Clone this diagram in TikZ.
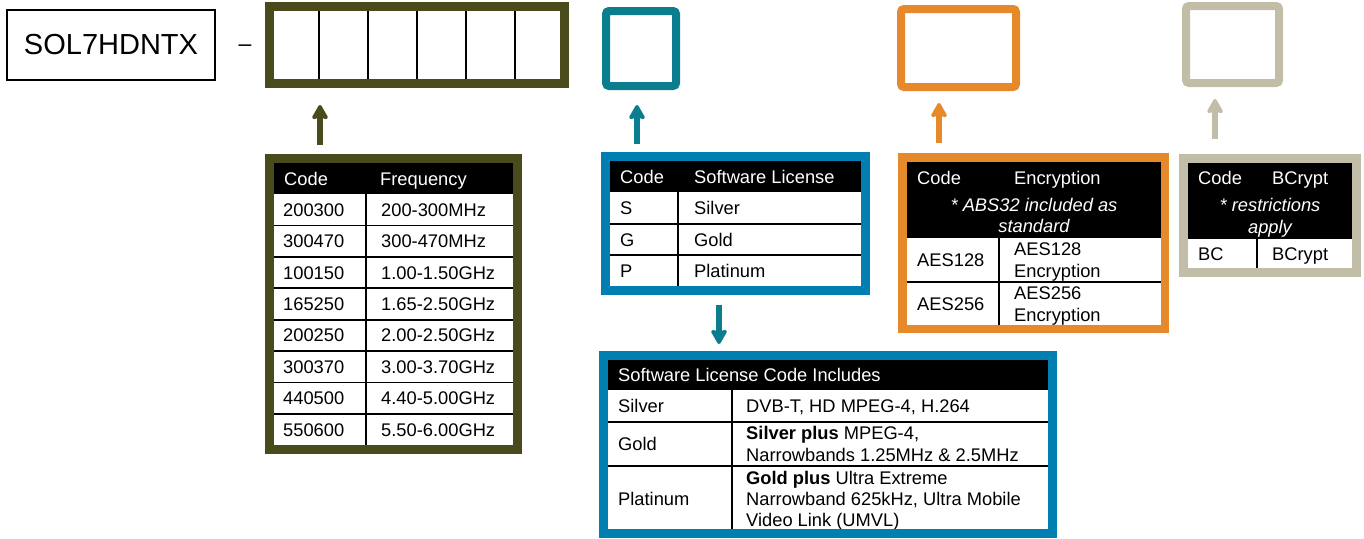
\documentclass[tikz,border=0pt]{standalone}
\usepackage{fontspec}
\setmainfont{Liberation Sans}
\usetikzlibrary{arrows.meta}
\definecolor{colOlive}{RGB}{74,75,28}
\definecolor{colTeal}{RGB}{10,125,143}
\definecolor{colBlue}{RGB}{0,127,176}
\definecolor{colOrange}{RGB}{229,137,43}
\definecolor{colBeige}{RGB}{194,189,166}
\begin{document}
\begin{tikzpicture}[x=1pt,y=-1pt,
  txt/.style={font=\fontsize{18.3}{21}\selectfont, inner sep=0pt, anchor=base west},
  hdr/.style={txt, text=white},
  ctr/.style={txt, anchor=base, text=white, font=\fontsize{18.3}{21}\selectfont\itshape},
  rule/.style={line width=1.8pt, black},
  frm/.style={line width=9pt},
  arr/.style={line width=5.5pt, -{Stealth[length=17pt,width=19pt,inset=3pt,round]}}
]
\useasboundingbox (0,0) rectangle (1364,538);

% ---------- top row ----------
\node[draw=black, line width=1.5pt, minimum width=208pt, minimum height=70pt, inner sep=0pt,
      font=\fontsize{29}{32}\selectfont] (sol) at (111,45) {SOL7HDNTX};
\node[font=\fontsize{23}{24}\selectfont, inner sep=0pt, anchor=base] (dash) at (245,51) {–};

\draw[colOlive, frm] (269.5,6.5) rectangle (564.5,83.5);
\foreach \x in {319,368,417,466,515} \draw[line width=2pt] (\x,11) -- (\x,79);

\draw[colTeal, line width=8pt, rounded corners=3pt] (606,11) rectangle (676,86);
\draw[colOrange, line width=8pt, rounded corners=3pt] (901,9) rectangle (1016,87);
\draw[colBeige, line width=8pt, rounded corners=3pt] (1186,6) rectangle (1279,83);

% ---------- arrows ----------
\coordinate (a1s) at (320,145); \coordinate (a1e) at (320,105);
\coordinate (a2s) at (637,144); \coordinate (a2e) at (637,105);
\coordinate (a3s) at (939,143); \coordinate (a3e) at (939,103);
\coordinate (a4s) at (1215,139); \coordinate (a4e) at (1215,99);
\coordinate (a5s) at (719,305); \coordinate (a5e) at (719,344);
\draw[arr, colOlive] (a1s) -- (a1e);
\draw[arr, colTeal] (a2s) -- (a2e);
\draw[arr, colOrange] (a3s) -- (a3e);
\draw[arr, colBeige] (a4s) -- (a4e);
\draw[arr, colTeal] (a5s) -- (a5e);

% ---------- frequency table ----------
\fill[black] (274,163) rectangle (513,194);
\node[hdr] (fh1) at (284,185) {Code};
\node[hdr] (fh2) at (380,185) {Frequency};
\foreach [count=\i] \a/\b in {200300/200-300MHz,300470/300-470MHz,100150/1.00-1.50GHz,
    165250/1.65-2.50GHz,200250/2.00-2.50GHz,300370/3.00-3.70GHz,440500/4.40-5.00GHz,550600/5.50-6.00GHz}{
  \pgfmathsetmacro\yy{194+31.4*\i}
  \pgfmathsetmacro\yb{\yy-15.7+6.5}
  \ifnum\i<8 \draw[rule] (274,\yy) -- (513,\yy); \fi
  \node[txt] (fa\i) at (283,\yb) {\a};
  \node[txt] (fb\i) at (381,\yb) {\b};
}
\draw[rule] (366,194) -- (366,445);
\draw[colOlive, frm] (269.5,158.5) rectangle (517.5,449.5);

% ---------- software license table ----------
\fill[black] (610,161) rectangle (861,192);
\node[hdr] (sh1) at (620,183) {Code};
\node[hdr] (sh2) at (694,183) {Software License};
\draw[rule] (610,224) -- (861,224);
\draw[rule] (610,255) -- (861,255);
\draw[rule] (678,192) -- (678,286);
\node[txt] (s1a) at (620,214.5) {S};
\node[txt] (s1b) at (694,214.5) {Silver};
\node[txt] (s2a) at (620,246) {G};
\node[txt] (s2b) at (694,246) {Gold};
\node[txt] (s3a) at (620,277) {P};
\node[txt] (s3b) at (694,277) {Platinum};
\draw[colBlue, frm] (605.5,156.5) rectangle (865,290);

% ---------- includes table ----------
\fill[black] (608,360) rectangle (1048,390);
\node[hdr] (ih) at (618,381.5) {Software License Code Includes};
\draw[rule] (608,422) -- (1048,422);
\draw[rule] (608,466) -- (1048,466);
\draw[rule] (732,390) -- (732,529);
\node[txt] (i1a) at (618,412.5) {Silver};
\node[txt] (i1b) at (746,412.5) {DVB-T, HD MPEG-4, H.264};
\node[txt] (i2a) at (618,450.5) {Gold};
\node[txt] (i2b) at (746,439.5) {\bfseries Silver plus\mdseries\ MPEG-4,};
\node[txt] (i2c) at (746,461.5) {Narrowbands 1.25MHz \& 2.5MHz};
\node[txt] (i3a) at (618,505.5) {Platinum};
\node[txt] (i3b) at (746,484.5) {\bfseries Gold plus\mdseries\ Ultra Extreme};
\node[txt] (i3c) at (746,505.5) {Narrowband 625kHz, Ultra Mobile};
\node[txt] (i3d) at (746,526.5) {Video Link (UMVL)};
\draw[colBlue, frm] (603.5,355.5) rectangle (1052.5,533);

% ---------- encryption table ----------
\fill[black] (907,162) rectangle (1161,238);
\node[hdr] (eh1) at (917,184.5) {Code};
\node[hdr] (eh2) at (1014,184.5) {Encryption};
\node[ctr] (en1) at (1034,211.5) {* ABS32 included as};
\node[ctr] (en2) at (1034,232.5) {standard};
\draw[rule] (907,282) -- (1161,282);
\draw[rule] (999,238) -- (999,325);
\node[txt] (e1a) at (917,266.5) {AES128};
\node[txt] (e1b) at (1014,255) {AES128};
\node[txt] (e1c) at (1014,277) {Encryption};
\node[txt] (e2a) at (917,310.5) {AES256};
\node[txt] (e2b) at (1014,299.5) {AES256};
\node[txt] (e2c) at (1014,321) {Encryption};
\draw[colOrange, line width=8.5pt] (902.5,157.5) rectangle (1165,329);

% ---------- bcrypt table ----------
\fill[black] (1188,163) rectangle (1352,239);
\node[hdr] (bh1) at (1198,184.5) {Code};
\node[hdr] (bh2) at (1272,184.5) {BCrypt};
\node[ctr] (bn1) at (1270,211.5) {* restrictions};
\node[ctr] (bn2) at (1270,233.5) {apply};
\draw[rule] (1257,239) -- (1257,268);
\node[txt] (b1a) at (1198,260.5) {BC};
\node[txt] (b1b) at (1272,260.5) {BCrypt};
\draw[colBeige, frm] (1183.5,158.5) rectangle (1356,272);
\end{tikzpicture}
\end{document}
